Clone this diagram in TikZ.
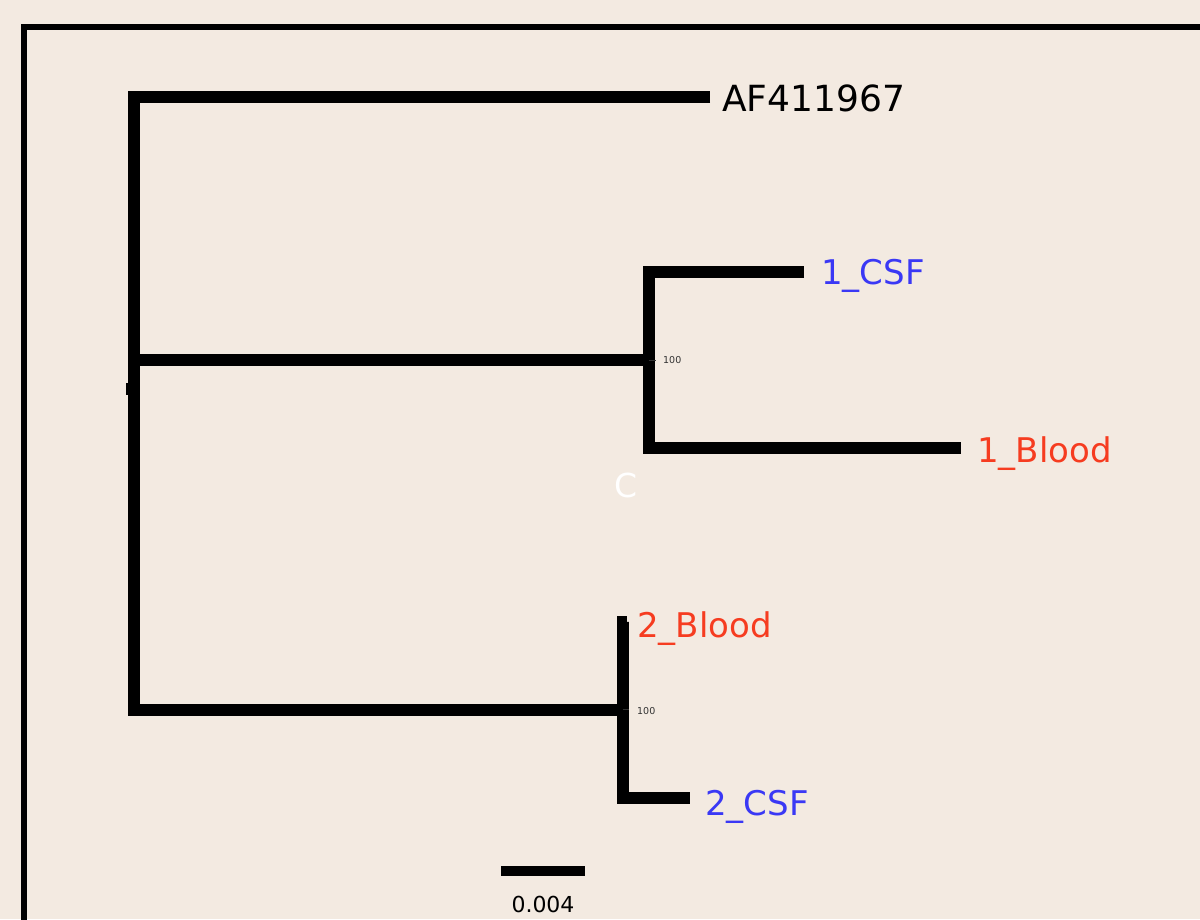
\documentclass[tikz,border=0pt]{standalone}
\usepackage{fontspec}
\setmainfont{DejaVu Sans}
\definecolor{paper}{RGB}{243,234,225}
\definecolor{csfblue}{RGB}{58,56,245}
\definecolor{bloodred}{RGB}{246,60,32}
\definecolor{supgray}{RGB}{50,50,50}
\begin{document}
\begin{tikzpicture}[x=1pt,y=-1pt,
  branch/.style={line width=12pt,line join=miter,line cap=butt,black},
  leaf/.style={anchor=base west,inner sep=0pt,font=\fontsize{34}{40}\selectfont},
  support/.style={anchor=west,inner sep=0pt,text=supgray,font=\fontsize{9.5}{10}\selectfont},
  supporttick/.style={line width=0.8pt,supgray}]
  % page and frame
  \fill[paper] (0,0) rectangle (1200,919);
  \useasboundingbox (0,0) rectangle (1200,919);
  \draw[line width=6pt] (24,27) -- (1210,27);
  \draw[line width=6pt] (24,24) -- (24,930);

  % tree nodes
  \coordinate (root) at (134,389);
  \coordinate (tAF) at (710,97);
  \coordinate (n1) at (648.5,360);
  \coordinate (tC1) at (804,271.5);
  \coordinate (tB1) at (961,448);
  \coordinate (n2) at (622.5,709.5);
  \coordinate (tB2) at (627,622);
  \coordinate (tC2) at (690,798);

  % branches
  \draw[branch] (tAF) -| (root |- n2) -- (n2);
  \draw[branch] (root |- n1) -- (n1);
  \draw[branch] (tC1) -| (n1 |- tB1) -- (tB1);
  \draw[branch] (tB2) -| (n2 |- tC2) -- (tC2);
  \fill (126,383) rectangle (129.5,395);

  % support values
  \draw[supporttick] (n1) -- ++(7,0);
  \draw[supporttick] (n2) -- ++(6,0);
  \node[support] (s1) at (663,360) {100};
  \node[support] (s2) at (637,711) {100};

  % tip labels
  \node[leaf,font=\fontsize{36}{40}\selectfont] (lAF) at (722,111.5) {AF411967};
  \node[leaf,text=csfblue] (lC1) at (821,284) {1\_CSF};
  \node[leaf,text=bloodred] (lB1) at (977,462) {1\_Blood};
  \node[leaf,text=bloodred] (lB2) at (637,637) {2\_Blood};
  \node[leaf,text=csfblue] (lC2) at (705,815) {2\_CSF};
  \node[anchor=base,inner sep=0pt,text=white,font=\fontsize{33}{40}\selectfont] (lC) at (626,497) {C};

  % scale bar
  \coordinate (sbL) at (501,871);
  \coordinate (sbR) at (585,871);
  \draw[line width=10.5pt] (sbL) -- (sbR);
  \node[anchor=base,inner sep=0pt,font=\fontsize{22}{26}\selectfont] (sbT) at (543,912) {0.004};
\end{tikzpicture}
\end{document}
